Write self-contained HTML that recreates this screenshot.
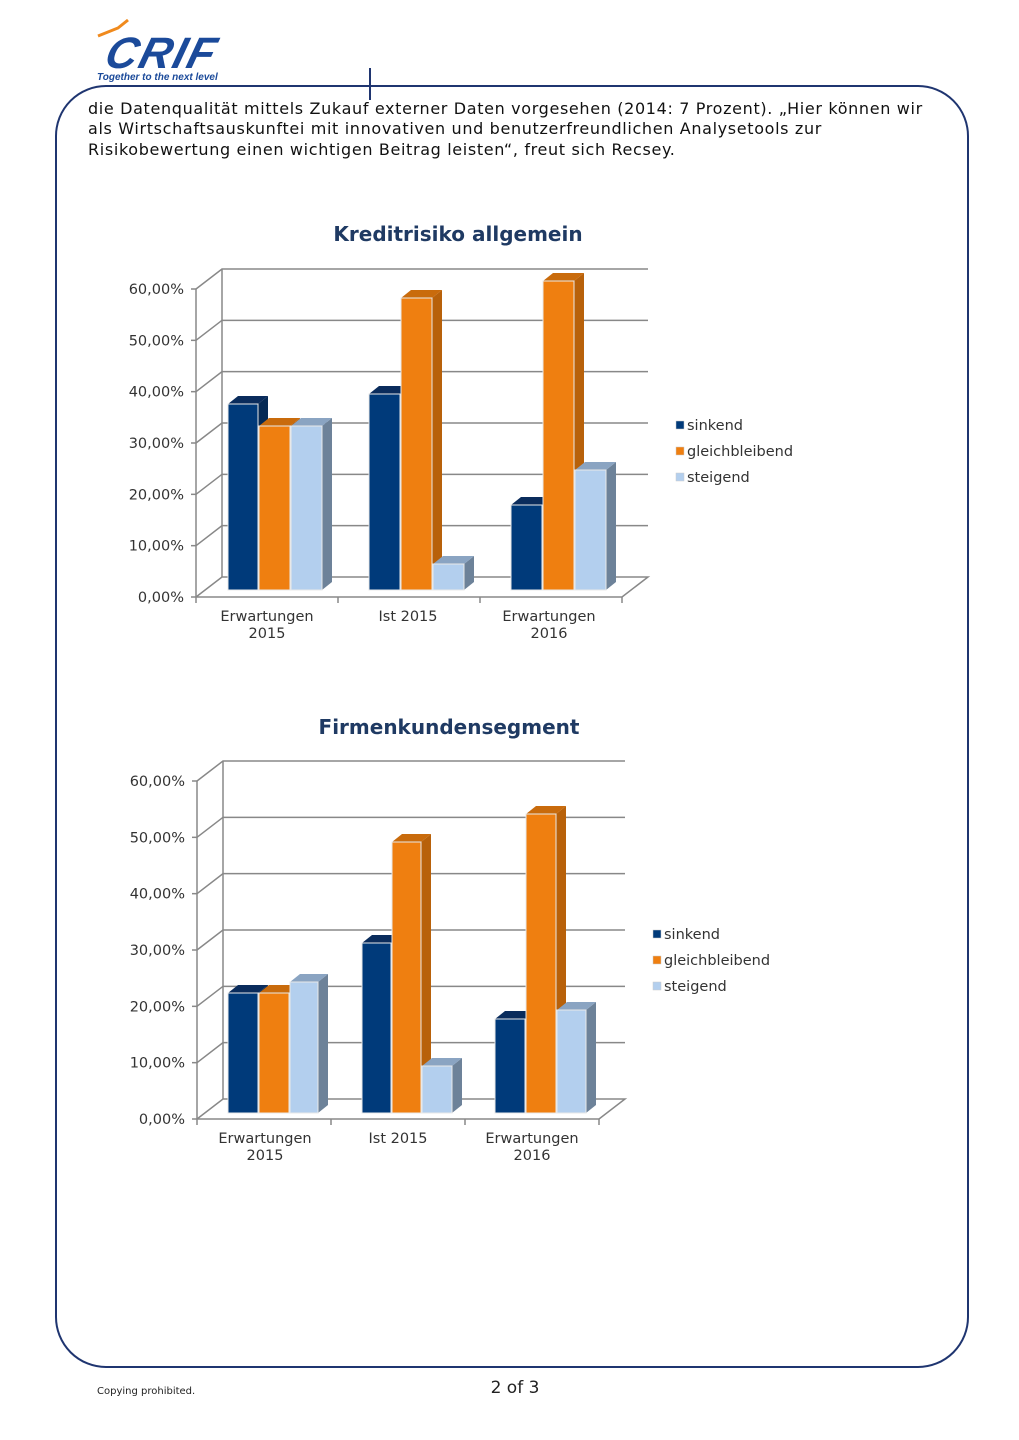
<!DOCTYPE html>
<html><head><meta charset="utf-8"><style>
body{margin:0;background:#fff;}
svg{display:block;}
</style></head><body>
<svg id="s" width="1019" height="1440" xmlns="http://www.w3.org/2000/svg" font-family="'DejaVu Sans','Liberation Sans',sans-serif">
<rect width="1019" height="1440" fill="#fff"/>
<!-- logo -->
<path d="M98 36 L118 28 L128 20" stroke="#f08a1d" stroke-width="3" fill="none"/>
<text x="104" y="68" font-family="'Liberation Sans',sans-serif" font-weight="bold" font-style="italic" font-size="44" fill="#1b4a9a" letter-spacing="2" transform="skewX(-15) translate(17,0)">CRIF</text>
<text x="97" y="80" font-family="'Liberation Sans',sans-serif" font-weight="bold" font-style="italic" font-size="10" fill="#1b4a9a">Together to the next level</text>
<!-- frame -->
<rect x="56" y="86" width="912" height="1281" rx="50" ry="50" fill="none" stroke="#1f3570" stroke-width="2"/>
<line x1="370" y1="68" x2="370" y2="100" stroke="#1f3570" stroke-width="2"/>
<g font-size="16" fill="#111" letter-spacing="0.65">
<text x="88" y="114">die Datenqualität mittels Zukauf externer Daten vorgesehen (2014: 7 Prozent). „Hier können wir</text>
<text x="88" y="134">als Wirtschaftsauskunftei mit innovativen und benutzerfreundlichen Analysetools zur</text>
<text x="88" y="155">Risikobewertung einen wichtigen Beitrag leisten“, freut sich Recsey.</text>
</g>
<text x="458" y="241" text-anchor="middle" font-weight="bold" font-size="20" fill="#1f3a63">Kreditrisiko allgemein</text>
<text x="449" y="734" text-anchor="middle" font-weight="bold" font-size="20" fill="#1f3a63">Firmenkundensegment</text>
<g id="c1"></g><g id="c2"></g>
<text x="97" y="1394" font-size="10" fill="#222">Copying prohibited.</text>
<text x="515" y="1393" text-anchor="middle" font-size="17" fill="#222">2 of 3</text>
</svg>
<script>
const NS="http://www.w3.org/2000/svg";
function el(p,t,a,txt){const e=document.createElementNS(NS,t);for(const k in a)e.setAttribute(k,a[k]);if(txt)e.textContent=txt;p.appendChild(e);return e;}
function chart(g,o){
 const {x0,y0,y60,xe,bars,bot,labx,cats,legx,legy}=o;
 const step=(y0-y60)/6, dx=26, dy=20;
 for(let i=0;i<=6;i++){const y=y0-i*step;
  if(i>0){el(g,'polyline',{points:`${x0},${y} ${x0+dx},${y-dy} ${xe+dx},${y-dy}`,fill:'none',stroke:'#888','stroke-width':1.5});}
  el(g,'line',{x1:x0-5,y1:y,x2:x0,y2:y,stroke:'#888','stroke-width':1.5});
  el(g,'text',{x:x0-12,y:y+5,'text-anchor':'end','font-size':14.5,fill:'#333'},(i*10)+',00%');}
 el(g,'line',{x1:x0,y1:y0,x2:x0,y2:y60,stroke:'#888','stroke-width':1.5});
 el(g,'line',{x1:x0+dx,y1:y0-dy,x2:x0+dx,y2:y60-dy,stroke:'#888','stroke-width':1.5});
 el(g,'polyline',{points:`${x0},${y0} ${x0+dx},${y0-dy} ${xe+dx},${y0-dy} ${xe},${y0} ${x0},${y0}`,fill:'none',stroke:'#888','stroke-width':1.5});
 for(let i=0;i<=3;i++){const x=x0+(xe-x0)*i/3;el(g,'line',{x1:x,y1:y0,x2:x,y2:y0+6,stroke:'#888','stroke-width':1.5});}
 const cols=[['#003a7a','#062a55','#0a2c5c'],['#ef7f10','#b8610a','#c96b0c'],['#b3cfee','#6d8299','#8aa4c2']];
 bars.forEach(b=>{const [x1,x2,top,c]=b;const C=cols[c];const d=10,h=8;
  el(g,'polygon',{points:`${x2},${top} ${x2+d},${top-h} ${x2+d},${bot-h} ${x2},${bot}`,fill:C[1]});
  el(g,'polygon',{points:`${x1},${top} ${x1+d},${top-h} ${x2+d},${top-h} ${x2},${top}`,fill:C[2]});
  el(g,'rect',{x:x1,y:top,width:x2-x1,height:bot-top,fill:C[0],stroke:'#e8e8e8','stroke-width':1});});
 cats.forEach((c,i)=>{c.forEach((t,j)=>el(g,'text',{x:labx[i],y:y0+24+j*17,'text-anchor':'middle','font-size':14.5,fill:'#333'},t));});
 ['sinkend','gleichbleibend','steigend'].forEach((t,i)=>{const y=legy+i*26;
  el(g,'rect',{x:legx,y:y-9,width:8,height:8,fill:cols[i][0],stroke:'#ccc','stroke-width':0.5});
  el(g,'text',{x:legx+11,y:y,'font-size':14.5,fill:'#333'},t);});
}
const cats=[['Erwartungen','2015'],['Ist 2015'],['Erwartungen','2016']];
chart(document.getElementById('c1'),{x0:196,y0:597,y60:289,xe:622,bot:590,labx:[267,408,549],cats,legx:676,legy:430,
 bars:[[228,258,404,0],[259,290,426,1],[291,322,426,2],[369,400,394,0],[401,432,298,1],[433,464,564,2],[511,542,505,0],[543,574,281,1],[575,606,470,2]]});
chart(document.getElementById('c2'),{x0:197,y0:1119,y60:781,xe:599,bot:1113,labx:[265,398,532],cats,legx:653,legy:939,
 bars:[[228,258,993,0],[259,289,993,1],[290,318,982,2],[362,391,943,0],[392,421,842,1],[422,452,1066,2],[495,525,1019,0],[526,556,814,1],[557,586,1010,2]]});
</script>
</body></html>
